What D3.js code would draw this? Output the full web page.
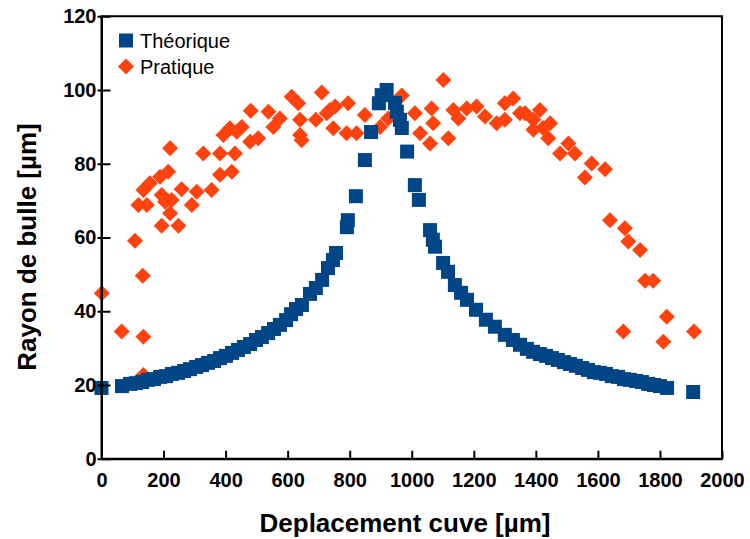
<!DOCTYPE html>
<html lang="fr">
    <head>
    	<meta charset="utf-8">
    	<title>Rayon de bulle</title>
    	<script type="text/javascript" src="https://d3js.org/d3.v7.min.js"></script>
    	<style type="text/css">
    	    body { margin: 0; background: #fff; }
    	    text { font-family: "Liberation Sans", Arial, sans-serif; }
    	</style>
    </head>
    <body>
    	<script type="text/javascript">

    	    // Width and height
    	    var w = 750;
    	    var h = 539;

    	    // Théorique : deplacement [µm] / rayon [µm]
    	    var theoX = [0, 66, 92, 111, 131, 150, 169, 189, 208, 227, 247, 266, 285, 305, 324, 343, 363, 382, 401, 421,
    	                 440, 459, 479, 498, 517, 537, 556, 575, 595, 611, 627, 646, 672, 691, 711, 730, 746, 756, 791, 794,
    	                 820, 849, 869, 894, 903, 919, 946, 952, 962, 968, 985, 1010, 1023, 1059, 1068, 1075, 1101, 1117, 1139, 1159,
    	                 1178, 1207, 1239, 1268, 1300, 1326, 1349, 1371, 1391, 1413, 1433, 1452, 1471, 1491, 1510, 1529, 1549, 1568, 1587, 1607,
    	                 1626, 1645, 1665, 1684, 1703, 1723, 1742, 1762, 1781, 1800, 1823, 1907];
    	    var theoY = [19.2, 19.7, 20.3, 20.5, 20.8, 21.4, 21.6, 22.2, 22.4, 23.0, 23.3, 23.8, 24.3, 24.9, 25.4, 26.0, 26.5, 27.3, 27.9, 28.7,
    	                 29.5, 30.3, 31.1, 32.2, 33.0, 34.1, 35.2, 36.3, 37.6, 39.2, 40.6, 41.7, 44.7, 46.3, 48.5, 51.7, 53.9, 55.8, 62.8, 64.7,
    	                 71.2, 81.0, 88.6, 96.4, 98.6, 100.0, 96.5, 94.1, 91.9, 89.7, 83.3, 74.2, 70.2, 62.0, 59.4, 57.5, 53.1, 50.7, 47.1, 45.0,
    	                 43.1, 40.4, 37.7, 35.8, 33.6, 32.2, 30.9, 29.8, 29.0, 28.4, 27.9, 27.3, 26.8, 26.2, 25.7, 25.2, 24.6, 24.1, 23.5, 23.3,
    	                 23.0, 22.4, 22.2, 21.6, 21.4, 21.1, 20.8, 20.3, 20.0, 19.7, 19.2, 18.1];

    	    // Pratique
    	    var pratX = [1, 65, 135, 135, 133, 108, 119, 146, 135, 156, 194, 248, 221, 205, 194, 226, 189, 215, 221, 258,
    	                 291, 307, 355, 328, 382, 382, 420, 430, 393, 414, 452, 436, 479, 505, 481, 538, 554, 575, 613, 634,
    	                 640, 640, 645, 691, 710, 726, 736, 753, 795, 747, 790, 822, 849, 898, 924, 968, 1010, 1027, 1064, 1069,
    	                 1059, 1118, 1102, 1134, 1150, 1177, 1209, 1236, 1274, 1300, 1300, 1327, 1349, 1392, 1392, 1365, 1413, 1446, 1440, 1423,
    	                 1505, 1478, 1526, 1580, 1623, 1558, 1639, 1687, 1698, 1736, 1752, 1778, 1822, 1682, 1811, 1910];
    	    var pratY = [44.9, 34.5, 33.1, 22.7, 49.6, 59.1, 68.8, 68.8, 72.9, 74.7, 63.2, 63.2, 66.6, 69.7, 71.5, 70.2, 76.5, 77.8, 84.2, 73.1,
    	                 68.8, 72.4, 72.9, 82.8, 82.8, 77.0, 77.8, 82.8, 87.8, 89.6, 90.0, 88.7, 86.0, 86.9, 94.4, 94.1, 90.0, 92.3, 98.2, 96.4,
    	                 91.9, 87.8, 86.4, 91.9, 99.3, 93.7, 94.6, 95.5, 96.4, 89.6, 88.3, 88.3, 93.2, 90.0, 92.3, 98.5, 93.7, 88.3, 95.0, 91.0,
    	                 85.5, 86.9, 102.7, 94.6, 92.3, 95.0, 95.5, 92.8, 91.0, 91.9, 96.4, 97.7, 93.7, 91.9, 89.2, 93.7, 94.6, 91.0, 86.9, 89.7,
    	                 85.5, 82.8, 82.8, 80.1, 78.5, 76.3, 64.7, 62.5, 58.9, 56.6, 48.3, 48.3, 38.5, 34.5, 31.7, 34.5];

    	    var xTicks = d3.range(0, 2001, 200);
    	    var yTicks = d3.range(0, 121, 20);
    	    var seriesNames = ["Théorique", "Pratique"];
    	    var colors = ["#004586", "#ff420e"];

    	    // plot area
    	    var pLeft = 101.5, pRight = 722, pTop = 16.25, pBottom = 458.75;
    	    var sq = 14, dm = 8;

    	    var xScale = d3.scaleLinear()
    	                   .domain([0, 2000])
    	                   .range([pLeft, pRight]);

    	    var yScale = d3.scaleLinear()
    	                   .domain([0, 120])
    	                   .range([pBottom, pTop]);

    	    var svg = d3.select("body")
    	                .append("svg")
    	                .attr("width", w)
    	                .attr("height", h);

    	    var theo = theoX.map(function(d, i) { return [d, theoY[i]]; });
    	    var prat = pratX.map(function(d, i) { return [d, pratY[i]]; });

    	    var diamond = "M0," + (-dm) + "L" + dm + ",0L0," + dm + "L" + (-dm) + ",0Z";

    	    // Pratique (drawn under the squares)
    	    svg.append("g")
    	       .selectAll("path")
    	       .data(prat)
    	       .enter()
    	       .append("path")
    	       .attr("d", diamond)
    	       .attr("transform", function(d) {
    	        return "translate(" + xScale(d[0]) + "," + yScale(d[1]) + ")";
    	       })
    	       .attr("fill", colors[1]);

    	    // Théorique
    	    svg.append("g")
    	       .selectAll("rect")
    	       .data(theo)
    	       .enter()
    	       .append("rect")
    	       .attr("x", function(d) { return xScale(d[0]) - sq / 2; })
    	       .attr("y", function(d) { return yScale(d[1]) - sq / 2; })
    	       .attr("width", sq)
    	       .attr("height", sq)
    	       .attr("fill", colors[0]);

    	    // Frame
    	    svg.append("rect")
    	       .attr("x", pLeft)
    	       .attr("y", pTop)
    	       .attr("width", pRight - pLeft)
    	       .attr("height", pBottom - pTop)
    	       .attr("fill", "none")
    	       .attr("stroke", "#000")
    	       .attr("stroke-width", 2);

    	    // Axes
    	    var xAxis = d3.axisBottom(xScale)
    	                  .tickValues(xTicks)
    	                  .tickFormat(d3.format("d"))
    	                  .tickSizeInner(-8)
    	                  .tickSizeOuter(0)
    	                  .tickPadding(14);

    	    var yAxis = d3.axisLeft(yScale)
    	                  .tickValues(yTicks)
    	                  .tickFormat(d3.format("d"))
    	                  .tickSizeInner(-9)
    	                  .tickSizeOuter(0)
    	                  .tickPadding(5);

    	    var gx = svg.append("g")
    	                .attr("transform", "translate(0," + pBottom + ")")
    	                .call(xAxis);

    	    var gy = svg.append("g")
    	                .attr("transform", "translate(" + pLeft + ",0)")
    	                .call(yAxis);

    	    [gx, gy].forEach(function(g) {
    	        g.select(".domain").attr("stroke-width", 2);
    	        g.selectAll(".tick line").attr("stroke-width", 2);
    	        g.selectAll(".tick text")
    	         .attr("font-family", "Liberation Sans, Arial, sans-serif")
    	         .attr("font-size", "20px")
    	         .attr("font-weight", "bold")
    	         .attr("fill", "#000");
    	    });

    	    // small outer part of the y ticks
    	    gy.selectAll(".tick")
    	      .append("line")
    	      .attr("x1", -4)
    	      .attr("x2", 0)
    	      .attr("stroke", "#000")
    	      .attr("stroke-width", 2);

    	    // Axis titles
    	    svg.append("text")
    	       .attr("x", 405)
    	       .attr("y", 532)
    	       .attr("text-anchor", "middle")
    	       .attr("font-size", "26px")
    	       .attr("font-weight", "bold")
    	       .text("Deplacement cuve [µm]");

    	    svg.append("text")
    	       .attr("transform", "translate(36,247) rotate(-90)")
    	       .attr("text-anchor", "middle")
    	       .attr("font-size", "26px")
    	       .attr("font-weight", "bold")
    	       .text("Rayon de bulle [µm]");

    	    // Legend
    	    var legend = svg.append("g");

    	    legend.append("rect")
    	          .attr("x", 119)
    	          .attr("y", 33.5)
    	          .attr("width", 14)
    	          .attr("height", 14)
    	          .attr("fill", colors[0]);

    	    legend.append("path")
    	          .attr("d", diamond)
    	          .attr("transform", "translate(126,66.5)")
    	          .attr("fill", colors[1]);

    	    legend.selectAll("text")
    	          .data(seriesNames)
    	          .enter()
    	          .append("text")
    	          .attr("x", 140)
    	          .attr("y", function(d, i) { return 48 + i * 26; })
    	          .attr("font-size", "20px")
    	          .attr("fill", "#000")
    	          .text(function(d) { return d; });

    	</script>
    </body>
</html>
